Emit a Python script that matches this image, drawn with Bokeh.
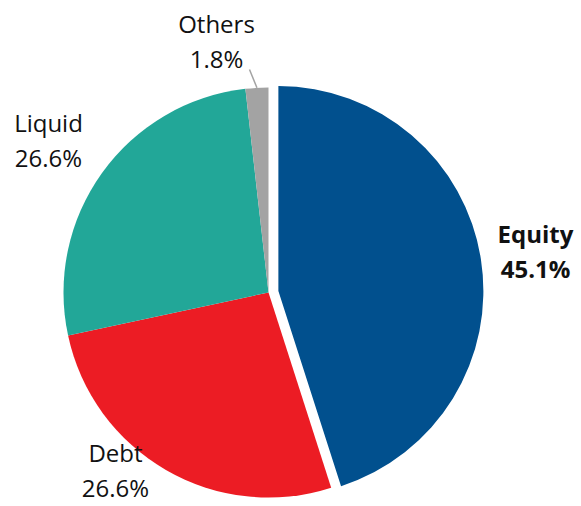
import numpy as np
from bokeh.plotting import figure
from bokeh.models import Range1d
from bokeh.core.properties import value
from bokeh.embed import file_html
from bokeh.resources import INLINE

# ---- data ----
categories = ["Equity", "Debt", "Liquid", "Others"]
shares = [45.1, 26.6, 26.6, 1.8]
pct_labels = ["45.1%", "26.6%", "26.6%", "1.8%"]
colors = ["#01508E", "#EC1C24", "#22A798", "#A3A3A3"]

# ---- layout / style ----
W, H = 581, 506
cx, cy, R = 268, 214, 205
explode = np.array([10, 0, 0, 0])
FONT = "Open Sans"
FS = "24px"

p = figure(width=W, height=H, x_range=Range1d(0, W), y_range=Range1d(0, H),
           output_backend="svg", toolbar_location=None, min_border=0)
p.axis.visible = False
p.grid.visible = False
p.outline_line_color = None
p.background_fill_color = "white"

frac = np.array(shares) / np.sum(shares)
cum = np.concatenate([[0.0], np.cumsum(frac)])
start = np.pi / 2 - 2 * np.pi * cum[1:]
end = np.pi / 2 - 2 * np.pi * cum[:-1]
mid = (start + end) / 2
xs = cx + explode * np.cos(mid)
ys = cy + explode * np.sin(mid)

p.wedge(x=xs, y=ys, radius=R, start_angle=start, end_angle=end,
        fill_color=colors, line_color=None)

# label anchor positions (centre x, baseline of first line)
label_pos = {
    "Equity": (535, 273),
    "Debt": (115, 54),
    "Liquid": (48, 384),
    "Others": (216, 483),
}
LINE = 35
for i, cat in enumerate(categories):
    lx, ly = label_pos[cat]
    style = "bold" if cat == "Equity" else "normal"
    p.text(x=[lx, lx], y=[ly, ly - LINE], text=[cat, pct_labels[i]],
           text_font=value(FONT), text_font_size=FS, text_font_style=style,
           text_align="center", text_baseline="alphabetic", text_color="#111111")

# leader line for the small "Others" slice
io = categories.index("Others")
ex = cx + R * np.cos(mid[io])
ey = cy + R * np.sin(mid[io])
ox, oy = label_pos["Others"]
p.line(x=[ox + 33, ex], y=[oy - LINE - 11, ey], line_color="#A3A3A3", line_width=1.5)

open("out.html", "w").write(file_html(p, INLINE))
